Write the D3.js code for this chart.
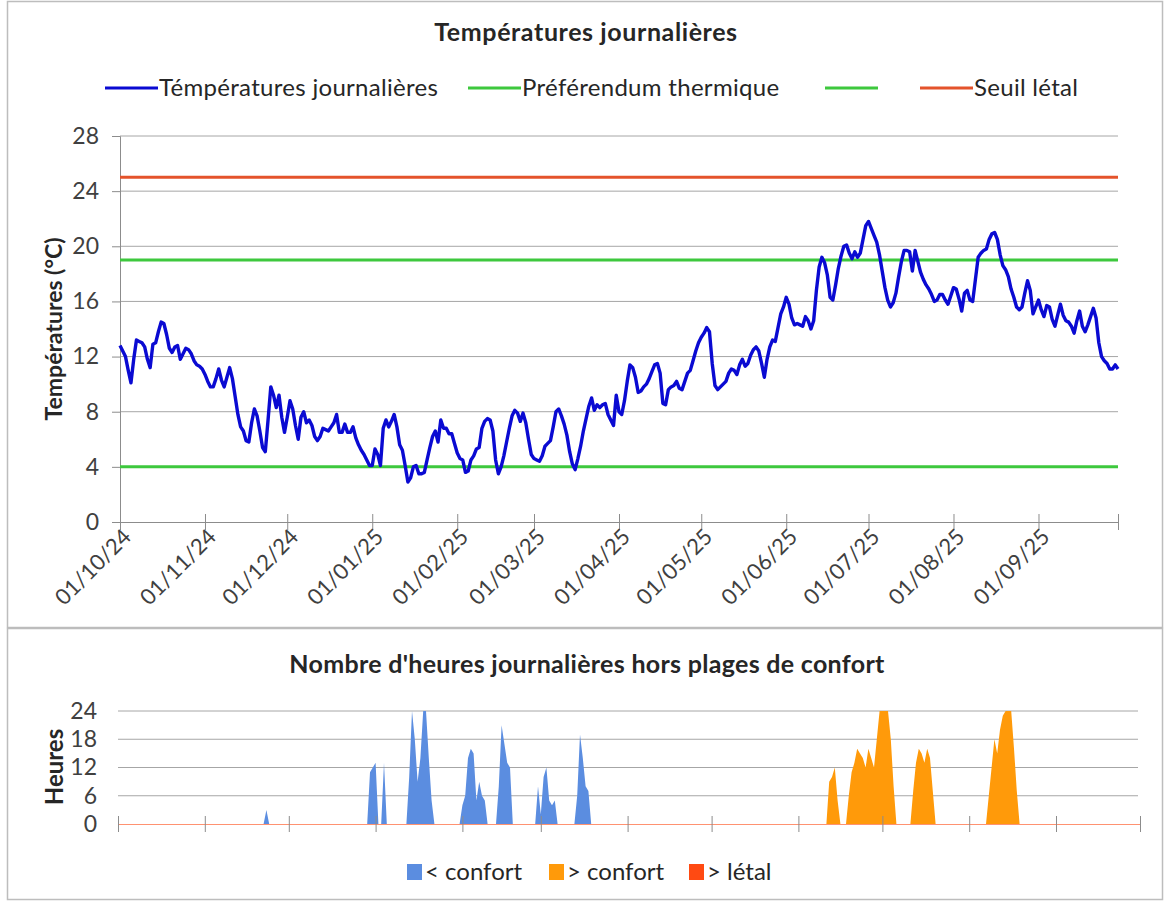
<!DOCTYPE html>
<html>
<head>
<meta charset="utf-8">
<script src="https://cdn.jsdelivr.net/npm/d3@7"></script>
<style>
  body { margin: 0; background: #fff; }
  text { font-family: Lato, "Open Sans", sans-serif; fill: #262626; }
</style>
</head>
<body>
<svg id="chart" width="1169" height="903"></svg>
<script>
// températures journalières, mois par mois (°C)
const tempOct = [12.8,12.4,12.0,11.0,10.1,11.8,13.2,13.1,13.0,12.7,11.8,11.2,12.9,13.0,13.8,14.5,14.4,13.6,12.6,12.3,12.7,12.8,11.8,12.2,12.6,12.5,12.2,11.7,11.4,11.3,11.1];
const tempNov = [10.7,10.2,9.8,9.8,10.4,11.1,10.3,9.8,10.5,11.2,10.4,9.1,7.8,6.9,6.6,5.9,5.8,7.2,8.2,7.7,6.6,5.4,5.1,7.4,9.8,9.2,8.3,9.2,7.6,6.5];
const tempDec = [7.6,8.8,8.2,7.0,6.0,7.6,8.0,7.2,7.4,7.0,6.2,5.9,6.2,6.8,6.7,6.6,6.9,7.2,7.8,6.5,6.5,7.1,6.5,6.5,6.9,6.1,5.6,5.2,4.9,4.5,4.1];
const tempJan = [4.1,5.3,4.9,4.1,6.8,7.4,6.9,7.3,7.8,6.9,5.6,5.2,4.1,2.9,3.2,4.0,4.1,3.5,3.5,3.6,4.5,5.4,6.2,6.6,5.8,7.4,6.8,6.8,6.4,6.4,5.7];
const tempFev = [5.0,4.6,4.5,3.6,3.7,4.5,4.8,5.3,5.4,6.8,7.3,7.5,7.4,6.6,4.5,3.5,4.0,4.8,5.8,6.8,7.7,8.1,7.9,7.3,7.9,7.2,6.0,4.9];
const tempMar = [4.6,4.5,4.4,4.8,5.5,5.7,5.9,6.9,8.0,8.2,7.7,7.1,6.3,5.1,4.2,3.8,4.6,5.5,6.6,7.5,8.4,9.0,8.1,8.5,8.3,8.5,8.6,7.8,7.4,7.0,9.2];
const tempAvr = [8.0,7.8,8.8,10.2,11.4,11.2,10.5,9.4,9.5,9.8,10.0,10.4,10.9,11.4,11.5,10.8,8.6,8.5,9.6,9.8,9.9,10.2,9.7,9.6,10.2,10.8,11.0,11.7,12.4,13.0];
const tempMai = [13.4,13.7,14.1,13.8,11.5,9.9,9.6,9.8,10.0,10.2,10.8,11.1,11.0,10.7,11.4,11.8,11.3,11.5,12.1,12.5,12.7,12.4,11.5,10.5,11.8,12.7,13.2,13.1,14.1,15.1,15.6];
const tempJuin = [16.3,15.8,14.8,14.3,14.4,14.3,14.2,14.9,14.6,14.0,14.6,16.8,18.5,19.2,18.8,17.9,16.3,16.1,17.2,18.4,19.3,20.0,20.1,19.5,19.1,19.6,19.2,19.5,20.5,21.5];
const tempJuil = [21.8,21.3,20.8,20.3,19.4,18.2,17.0,16.1,15.6,15.9,16.6,17.8,18.9,19.7,19.7,19.6,18.2,19.7,18.9,18.1,17.6,17.2,16.9,16.5,16.0,16.1,16.5,16.5,16.1,15.8,16.4];
const tempAout = [17.0,16.9,16.2,15.3,16.6,16.8,16.1,16.0,17.6,19.2,19.5,19.7,19.8,20.5,20.9,21.0,20.5,19.4,18.6,18.3,17.8,16.9,16.3,15.6,15.4,15.6,16.6,17.5,16.8,15.1,15.6];
const tempSep = [16.1,15.4,14.9,15.7,15.6,14.7,14.2,15.0,15.8,15.0,14.6,14.5,14.2,13.7,14.6,15.3,14.2,13.8,14.3,14.9,15.5,14.8,13.0,12.0,11.7,11.5,11.1,11.1,11.4,11.1];

const preferendum = [19, 4];
const seuilLetal = 25;

// heures hors confort : [jour depuis le 01/10/24, heures jour par jour]
const heuresFroid = [
  [52, [0, 3, 0]],
  [89, [0, 11, 12, 13, 0, 0, 13, 0]],
  [103, [0, 10, 24, 18, 9, 14, 24, 24, 14, 5, 0]],
  [122, [0, 4, 6, 14, 16, 15, 5, 9, 6, 5, 0]],
  [135, [0, 8, 21, 17, 13, 12, 0]],
  [149, [0, 8, 2, 10, 12, 5, 4, 5, 0]],
  [163, [0, 6, 19, 14, 8, 7, 0]]
];
const heuresChaud = [
  [253, [0, 9, 10, 12, 5, 0]],
  [260, [0, 6, 11, 13, 16, 15, 14, 12, 16, 14, 12, 18, 24, 24, 24, 24, 18, 8, 0]],
  [283, [0, 7, 13, 16, 15, 13, 16, 14, 7, 0]],
  [310, [0, 6, 12, 18, 15, 20, 23, 24, 24, 24, 16, 7, 0]]
];
const heuresLetal = [];

const ticksMois = ["01/10/24","01/11/24","01/12/24","01/01/25","01/02/25","01/03/25","01/04/25","01/05/25","01/06/25","01/07/25","01/08/25","01/09/25"];
const ticksTemp = [0, 4, 8, 12, 16, 20, 24, 28];
const ticksHeures = [0, 6, 12, 18, 24];

const legendeHaut = [
  { nom: "Témpératures journalières", couleur: "#0a0ad2" },
  { nom: "Préférendum thermique", couleur: "#3dc83d" },
  { nom: "", couleur: "#3dc83d" },
  { nom: "Seuil létal", couleur: "#e4532b" }
];
const legendeBas = [
  { nom: "< confort", couleur: "#5b8de0" },
  { nom: "> confort", couleur: "#ff9a0a" },
  { nom: "> létal", couleur: "#ff4a12" }
];

const temperatures = [].concat(tempOct, tempNov, tempDec, tempJan, tempFev, tempMar,
  tempAvr, tempMai, tempJuin, tempJuil, tempAout, tempSep);
const parse = d3.timeParse("%d/%m/%y");
const debut = parse("01/10/24");
const jour = i => d3.timeDay.offset(debut, i);
const serie = temperatures.map((t, i) => ({ date: jour(i), t: t }));
const nbJours = temperatures.length;

function remplir(episodes) {
  const h = new Array(nbJours).fill(0);
  episodes.forEach(([d0, vals]) => vals.forEach((v, k) => { h[d0 + k] = v; }));
  return h.map((v, i) => ({ date: jour(i), h: v }));
}

const svg = d3.select("#chart");
const grid = "#a6a6a6";
const gris = "#8c8c8c";

// cadres
svg.append("rect").attr("x", 7.5).attr("y", 1.5).attr("width", 1155).attr("height", 626)
  .attr("fill", "none").attr("stroke", "#bdbdbd").attr("stroke-width", 1.5);
svg.append("rect").attr("x", 7.5).attr("y", 628.5).attr("width", 1155).attr("height", 271)
  .attr("fill", "none").attr("stroke", "#bdbdbd").attr("stroke-width", 1.5);

// ---------- graphique du haut ----------
const x1 = d3.scaleTime().domain([debut, jour(nbJours - 1)]).range([120, 1118]);
const y1 = d3.scaleLinear().domain([0, 28]).range([522, 136]);

svg.append("text").attr("x", 586).attr("y", 41).attr("text-anchor", "middle")
  .style("font-size", "25px").style("font-weight", "bold").style("letter-spacing", "0.6px")
  .text("Températures journalières");

svg.append("g").selectAll("line").data(ticksTemp.slice(1)).join("line")
  .attr("x1", 120).attr("x2", 1118).attr("y1", d => y1(d)).attr("y2", d => y1(d))
  .attr("stroke", grid).attr("stroke-width", 1);

const axeY1 = svg.append("g").attr("transform", "translate(120,0)")
  .call(d3.axisLeft(y1).tickValues(ticksTemp).tickSize(8).tickPadding(13));
axeY1.selectAll("text").style("font-size", "23px").style("fill", "#404040");

const axeX1 = svg.append("g").attr("transform", "translate(0,522)")
  .call(d3.axisBottom(x1).tickValues(ticksMois.map(parse).concat([jour(nbJours - 1)]))
    .tickFormat((d, i) => ticksMois[i] || "").tickSize(8).tickPadding(5));
axeX1.selectAll(".tick line").attr("y1", -8);
axeX1.selectAll("text").style("font-size", "22px").style("fill", "#404040")
  .attr("text-anchor", "end").attr("dx", "-3").attr("dy", "7")
  .attr("transform", "rotate(-45)");

[axeY1, axeX1].forEach(a => {
  a.select(".domain").attr("stroke", gris);
  a.selectAll(".tick line").attr("stroke", gris);
});

svg.append("text").attr("transform", "translate(62,329) rotate(-90)")
  .attr("text-anchor", "middle").style("font-size", "23px").style("font-weight", "bold")
  .text("Températures (°C)");

const refs = [
  { v: preferendum[0], c: legendeHaut[1].couleur },
  { v: preferendum[1], c: legendeHaut[2].couleur },
  { v: seuilLetal, c: legendeHaut[3].couleur }
];
svg.append("g").selectAll("line").data(refs).join("line")
  .attr("x1", 120).attr("x2", 1118).attr("y1", d => y1(d.v)).attr("y2", d => y1(d.v))
  .attr("stroke", d => d.c).attr("stroke-width", 3);

svg.append("path").datum(serie)
  .attr("fill", "none").attr("stroke", legendeHaut[0].couleur).attr("stroke-width", 3.4)
  .attr("stroke-linejoin", "round")
  .attr("d", d3.line().x(d => x1(d.date)).y(d => y1(d.t)));

// légende du haut
const posLeg = [105, 468, 825, 920];
const leg1 = svg.append("g").selectAll("g").data(legendeHaut).join("g")
  .attr("transform", (d, i) => `translate(${posLeg[i]},88)`);
leg1.append("line").attr("x1", 0).attr("x2", 53).attr("stroke", d => d.couleur).attr("stroke-width", 3);
leg1.append("text").attr("x", 54).attr("y", 8).style("font-size", "24px").style("letter-spacing", "0.3px")
  .text(d => d.nom);

// ---------- graphique du bas ----------
const x2 = d3.scaleTime().domain([debut, jour(nbJours)]).range([118, 1140]);
const y2 = d3.scaleLinear().domain([0, 24]).range([824, 711]);

svg.append("text").attr("x", 587).attr("y", 673).attr("text-anchor", "middle")
  .style("font-size", "25px").style("font-weight", "bold").style("letter-spacing", "0.3px")
  .text("Nombre d'heures journalières hors plages de confort");

svg.append("g").selectAll("line").data(ticksHeures.slice(1)).join("line")
  .attr("x1", 118).attr("x2", 1138).attr("y1", d => y2(d)).attr("y2", d => y2(d))
  .attr("stroke", grid).attr("stroke-width", 1);

const aire = d3.area().x(d => x2(d.date)).y0(y2(0)).y1(d => y2(d.h));
[[heuresFroid, legendeBas[0].couleur], [heuresChaud, legendeBas[1].couleur], [heuresLetal, legendeBas[2].couleur]]
  .forEach(([ep, c]) => {
    svg.append("path").datum(remplir(ep)).attr("fill", c).attr("d", aire);
  });

const axeY2 = svg.append("g").attr("transform", "translate(118,0)")
  .call(d3.axisLeft(y2).tickValues(ticksHeures).tickSize(0).tickPadding(21));
axeY2.select(".domain").remove();
axeY2.selectAll("text").style("font-size", "23px").style("fill", "#404040");

const axeX2 = svg.append("g").attr("transform", "translate(0,824)")
  .call(d3.axisBottom(x2).tickValues(ticksMois.map(parse).concat([jour(nbJours)]))
    .tickFormat("").tickSize(8));
axeX2.selectAll(".tick line").attr("y1", -8).attr("stroke", gris);
axeX2.select(".domain").attr("stroke", legendeBas[2].couleur).attr("stroke-opacity", 0.6);

svg.append("text").attr("transform", "translate(63,767) rotate(-90)")
  .attr("text-anchor", "middle").style("font-size", "24px").style("font-weight", "bold")
  .text("Heures");

// légende du bas
const posLeg2 = [407, 549, 689];
const leg2 = svg.append("g").selectAll("g").data(legendeBas).join("g")
  .attr("transform", (d, i) => `translate(${posLeg2[i]},872)`);
leg2.append("rect").attr("x", 0).attr("y", -8).attr("width", 15).attr("height", 16).attr("fill", d => d.couleur);
leg2.append("text").attr("x", 18).attr("y", 8).style("font-size", "24px").text(d => d.nom);
</script>
</body>
</html>
